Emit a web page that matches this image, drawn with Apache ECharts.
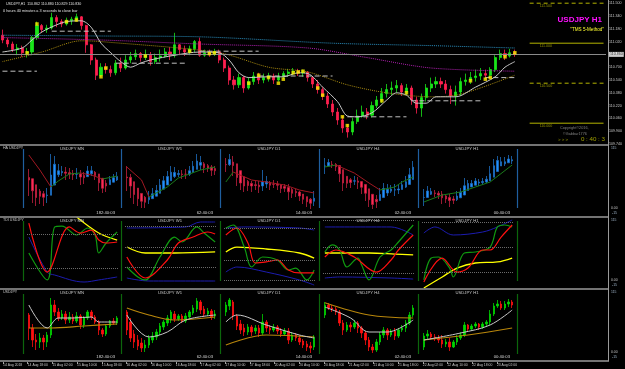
<!DOCTYPE html>
<html>
<head>
<meta charset="utf-8">
<style>
html, body { margin: 0; padding: 0; background: #000; }
#chart { width: 625px; height: 369px; }
</style>
<script src="https://cdn.jsdelivr.net/npm/echarts@6/dist/echarts.min.js"></script>
</head>
<body>
<div id="chart"></div>
<script>
// ---- data ----
// main H1 chart, [open, close, low, high]
var mainCandles = [
  [111.10,111.04,111.00,111.17],[111.04,110.99,110.95,111.07],[110.99,110.92,110.89,111.02],[110.92,110.94,110.85,110.99],
  [110.94,110.88,110.83,110.97],[110.88,110.89,110.82,110.94],[110.89,111.07,110.85,111.09],[111.07,111.22,111.04,111.27],
  [111.22,111.17,111.13,111.24],[111.17,111.19,111.13,111.23],[111.19,111.32,111.17,111.38],[111.32,111.27,111.20,111.35],
  [111.27,111.24,111.20,111.30],[111.24,111.28,111.22,111.32],[111.28,111.30,111.23,111.33],[111.30,111.33,111.27,111.37],
  [111.33,111.22,111.17,111.34],[111.22,110.98,110.88,111.23],[110.98,110.79,110.73,110.99],[110.79,110.60,110.54,110.82],
  [110.60,110.70,110.58,110.75],[110.70,110.67,110.62,110.75],[110.67,110.63,110.58,110.72],[110.63,110.75,110.60,110.79],
  [110.75,110.69,110.64,110.82],[110.69,110.79,110.67,110.85],[110.79,110.83,110.75,110.89],[110.83,110.87,110.79,110.92],
  [110.87,110.82,110.77,110.89],[110.82,110.85,110.79,110.92],[110.85,110.77,110.72,110.89],[110.77,110.82,110.74,110.87],
  [110.82,110.84,110.77,110.92],[110.84,110.89,110.82,110.94],[110.89,110.85,110.79,110.95],[110.85,110.98,110.82,111.13],
  [110.98,110.92,110.85,110.99],[110.92,110.89,110.84,110.97],[110.89,110.93,110.85,110.97],[110.93,111.02,110.89,111.04],
  [111.02,110.85,110.83,111.07],[110.85,110.88,110.83,110.92],[110.88,110.87,110.83,110.92],[110.87,110.89,110.84,110.93],
  [110.89,110.79,110.75,110.92],[110.79,110.69,110.64,110.82],[110.69,110.54,110.48,110.72],[110.54,110.48,110.42,110.59],
  [110.48,110.57,110.44,110.62],[110.57,110.44,110.38,110.59],[110.44,110.52,110.42,110.57],[110.52,110.59,110.48,110.64],
  [110.59,110.54,110.49,110.63],[110.54,110.57,110.50,110.62],[110.57,110.59,110.52,110.63],[110.59,110.54,110.49,110.62],
  [110.54,110.58,110.52,110.63],[110.58,110.62,110.55,110.65],[110.62,110.64,110.58,110.68],[110.64,110.65,110.60,110.69],
  [110.65,110.63,110.59,110.68],[110.63,110.64,110.58,110.67],[110.64,110.57,110.52,110.65],[110.57,110.49,110.44,110.59],
  [110.49,110.42,110.37,110.54],[110.42,110.34,110.29,110.45],[110.34,110.24,110.19,110.38],[110.24,110.14,110.09,110.29],
  [110.14,110.04,109.98,110.19],[110.04,109.94,109.88,110.09],[109.94,109.89,109.82,109.99],[109.89,110.02,109.85,110.07],
  [110.02,110.09,109.99,110.17],[110.09,110.14,110.07,110.22],[110.14,110.10,110.05,110.19],[110.10,110.22,110.07,110.27],
  [110.22,110.29,110.19,110.34],[110.29,110.37,110.25,110.44],[110.37,110.42,110.32,110.49],[110.42,110.44,110.35,110.52],
  [110.44,110.47,110.38,110.54],[110.47,110.39,110.34,110.50],[110.39,110.44,110.35,110.49],[110.44,110.29,110.23,110.47],
  [110.29,110.19,110.12,110.33],[110.19,110.32,110.08,110.37],[110.32,110.44,110.27,110.49],[110.44,110.49,110.39,110.57],
  [110.49,110.52,110.44,110.58],[110.52,110.49,110.44,110.57],[110.49,110.42,110.37,110.54],[110.42,110.34,110.24,110.47],
  [110.34,110.39,110.22,110.47],[110.39,110.52,110.34,110.57],[110.52,110.54,110.47,110.62],[110.54,110.57,110.49,110.64],
  [110.57,110.59,110.52,110.67],[110.59,110.62,110.54,110.69],[110.62,110.60,110.55,110.67],[110.60,110.67,110.58,110.70],
  [110.67,110.82,110.64,110.85],[110.82,110.87,110.79,110.92],[110.87,110.84,110.79,110.92],[110.84,110.88,110.82,110.93],
  [110.88,110.86,110.83,110.92]
];
var bid = 110.86;
// [bar index, price]
var mainFastMA = [[0,110.89],[4,110.94],[6,111.04],[8,111.14],[11,111.23],[13,111.27],[16,111.28],[18,111.20],[20,111.00],
  [22,110.88],[24,110.77],[26,110.70],[28,110.75],[30,110.79],[35,110.85],[40,110.89],[44,110.88],[46,110.79],[48,110.63],
  [50,110.57],[54,110.58],[57,110.58],[60,110.63],[62,110.62],[65,110.45],[68,110.27],[70,110.09],[72,110.08],[75,110.13],
  [78,110.29],[80,110.38],[82,110.35],[84,110.25],[86,110.25],[88,110.33],[92,110.33],[96,110.45],[100,110.58],[102,110.70],[104,110.77]];
var mainCyan = [[0,111.10],[20,111.09],[40,111.08],[67,111.00],[87,110.97],[104,110.94]];
var mainMagenta = [[0,111.07],[20,111.04],[40,110.99],[62,110.94],[74,110.82],[87,110.69],[104,110.65]];
var mainOlive = [[0,110.77],[8,110.89],[16,111.03],[20,111.02],[44,110.88],[54,110.70],[62,110.64],[70,110.48],[78,110.38],
  [87,110.33],[92,110.35],[97,110.44],[104,110.60]];
// [from bar, to bar, price]
var mainDashes = [[0,7,110.65],[10,22,111.15],[23,37,110.75],[40,52,110.90],[52,67,110.59],[70,82,110.08],[83,97,110.28],[98,104,110.57]];
var mainDots = [[5,110.88],[7,111.24],[13,111.27],[15,111.29],[20,110.58],[21,110.69],[29,110.84],[38,110.90],[42,110.87],
  [43,110.88],[50,110.50],[52,110.60],[54,110.57],[56,110.50],[57,110.55],[59,110.63],[60,110.64],[61,110.65],[64,110.44],
  [65,110.35],[69,110.08],[70,109.97],[77,110.28],[82,110.38],[95,110.53],[98,110.55],[99,110.57],[102,110.83],[104,110.88]];
var levelPrices = [111.5, 111.0, 110.5, 110.0];
var levelDashed = [true, false, true, false];
var timeLabels = ['14 Aug 2018','14 Aug 18:00','15 Aug 02:00','15 Aug 10:00','15 Aug 18:00','16 Aug 02:00','16 Aug 10:00',
  '16 Aug 18:00','17 Aug 02:00','17 Aug 10:00','17 Aug 18:00','20 Aug 02:00','20 Aug 10:00','20 Aug 18:00','21 Aug 02:00',
  '21 Aug 10:00','21 Aug 18:00','22 Aug 02:00','22 Aug 10:00','22 Aug 18:00','23 Aug 02:00'];

var frames = ['MN', 'W1', 'D1', 'H4', 'H1'];
var timers = ['182:40:03', '62:40:03', '14:40:03', '02:40:03', '00:40:03'];

var mnCandles = [[111.75,108.5,105.5,112.25],[108.5,105.5,103.75,109.5],[105.5,105,103,107],[105,106,103.5,107.25],
  [106,105,103,106.75],[105,106.75,103.75,107.5],[106.75,114.25,106,116],[114.25,112.5,111.5,115.5],[112.5,111,110.25,113.5],
  [111,112,110.5,113],[112,110.5,109.5,112.75],[110.5,111.25,109.75,112.5],[111.25,110.25,109.5,112],[110.25,111.5,109.75,112.5],
  [111.5,109.25,108.25,112],[109.25,111,108.5,111.5],[111,112.5,110.5,113],[112.5,111.25,110.5,113],[111.25,110,109.5,111.75],
  [110,108,106.75,110.5],[108,107,106.25,108.5],[107,109,106.5,109.5],[109,110.25,108.5,110.5],[110.25,109.75,109.25,111],
  [109.75,111,109.25,111.5]];
var w1Candles = [[111.5,109.25,108.625,111.75],[110.25,108.25,107.75,110.75],[108.75,107.75,107,109.25],[108,107.25,106.75,108.625],
  [107.625,107,106.5,108.25],[107,107.375,106.5,108],[107.375,108.25,107,108.625],[108,108.5,107.625,109],[108.375,109,108,109.375],
  [109,109.75,108.625,110.125],[109.625,110.25,109.25,110.5],[110.125,110.75,109.75,111.125],[110.5,111.5,110.125,111.75],
  [111.25,110.625,110.25,111.625],[110.625,111,110.375,111.25],[111,110.375,110.125,111.25],[110.375,111,110.125,111.375],
  [110.875,111.5,110.5,111.75],[111.375,112,111.125,112.375],[111.875,112.875,111.5,113.25],[112.75,111.75,111.25,113],
  [111.875,111.25,110.875,112.25],[111.25,111.625,111,112],[111.625,110.875,110.5,111.875],[111,111.25,110.625,111.75]];
var d1Candles = [[112.1,112.45,111.9,112.6],[112.4,112.7,112.2,112.8],[112.6,111.9,111.7,112.7],[111.9,111.4,111.2,112.0],
  [111.5,111.2,111.0,111.7],[111.3,111.1,110.9,111.5],[111.1,111.35,110.95,111.5],[111.35,111.1,110.9,111.45],
  [111.15,111.3,111.0,111.45],[111.3,111.05,110.85,111.45],[111.05,111.6,110.95,112.0],[111.6,111.3,111.1,111.7],
  [111.3,111.2,111.0,111.45],[111.2,111.35,111.1,111.5],[111.35,111.15,111.0,111.45],[111.15,111.0,110.85,111.3],
  [111.0,111.15,110.9,111.3],[111.15,110.7,110.5,111.3],[110.7,110.95,110.6,111.1],[110.95,110.8,110.65,111.05],
  [110.8,110.6,110.45,110.95],[110.65,110.45,110.3,110.75],[110.5,110.35,110.15,110.65],[110.4,110.3,110.05,110.6],
  [110.35,110.85,110.2,110.95]];
var h4Candles = [[110.695,110.945,110.62,111.02],[110.945,110.87,110.82,110.995],[110.87,110.845,110.77,110.945],
  [110.845,110.77,110.695,110.895],[110.77,110.495,110.42,110.82],[110.495,110.32,110.195,110.57],[110.32,110.445,110.27,110.52],
  [110.445,110.395,110.27,110.52],[110.395,110.495,110.345,110.57],[110.495,110.37,110.245,110.545],[110.37,110.245,110.12,110.42],
  [110.245,110.07,109.945,110.295],[110.07,109.895,109.795,110.145],[109.895,109.82,109.745,109.97],[109.82,110.02,109.77,110.095],
  [110.02,110.195,109.945,110.27],[110.195,110.32,110.12,110.395],[110.32,110.195,110.07,110.37],[110.195,110.295,110.145,110.345],
  [110.295,110.17,110.07,110.37],[110.17,110.32,110.12,110.37],[110.32,110.37,110.27,110.445],[110.37,110.495,110.27,110.57],
  [110.495,110.695,110.445,110.77],[110.695,110.87,110.645,110.945]];
var h1Candles = [[110.03,110.25,109.97,110.31],[110.25,110.29,110.17,110.37],[110.29,110.23,110.19,110.33],[110.23,110.21,110.15,110.29],
  [110.21,110.17,110.11,110.27],[110.17,110.09,110.01,110.27],[110.09,110.13,110.03,110.19],[110.13,110.03,109.95,110.21],
  [110.03,110.13,110.01,110.17],[110.13,110.21,110.07,110.27],[110.21,110.27,110.17,110.33],[110.27,110.47,110.23,110.53],
  [110.47,110.39,110.33,110.49],[110.39,110.45,110.35,110.49],[110.45,110.49,110.41,110.53],[110.49,110.43,110.37,110.51],
  [110.43,110.49,110.39,110.53],[110.49,110.53,110.43,110.57],[110.53,110.69,110.47,110.77],[110.69,110.85,110.65,110.91],
  [110.85,110.89,110.81,110.97],[110.89,110.81,110.77,110.95],[110.81,110.89,110.77,110.95],[110.89,110.93,110.83,110.99],
  [110.93,110.87,110.81,110.97]];
var miniCandles = [mnCandles, w1Candles, d1Candles, h4Candles, h1Candles];

// Heikin Ashi trend line of the HA sub-window, [bar, price]
var haTrend = [
  [[0,115.75],[3,112],[6,107.75],[8,109.25],[11,111],[14,111.25],[17,110.75],[20,109.75],[24,110.5]],
  [[0,111.625],[4,110],[6,107.875],[11,109.125],[14,110.25],[20,111.25],[24,111.625]],
  [[0,111.4],[2,111.9],[7,111.5],[11,111.4],[16,111.25],[20,111.0],[24,110.85]],
  [[0,110.795],[3,110.845],[8,110.645],[12,110.395],[15,110.22],[19,110.295],[21,110.42],[24,110.545]],
  [[0,110.05],[5,110.19],[10,110.25],[14,110.35],[18,110.45],[24,110.79]]
];
// moving averages of the candle sub-window
var greyMA = [
  [[0,114.25],[5,108.5],[8,111],[12,111],[17,111.25],[19,110],[24,110]],
  [[0,111.125],[6,108.375],[11,109],[16,110.5],[24,111.125]],
  [[0,111.6],[3,111.95],[11,111.45],[20,110.95],[24,110.8]],
  [[0,110.895],[7,110.62],[12,110.27],[17,110.27],[24,110.57]],
  [[0,110.17],[10,110.31],[18,110.47],[24,110.77]]
];
var oliveMA = [
  [[0,108.5],[6,108.5],[15,109],[24,109.5]],
  [[0,112],[6,111.125],[13,110.5],[24,110.875]],
  [[0,110.45],[11,110.95],[24,110.85]],
  [[0,111.0],[12,110.695],[24,110.62]],
  [[0,110.17],[12,110.27],[24,110.41]]
];
// TDI sub-window
var tdiGreen = [
  [[0,47.5],[5,18.6],[7,75.4],[9,76.4],[13,66.8],[16,74.3],[18,66.8],[19,47.5],[21,58.2],[24,70]],
  [[0,32.5],[3,21.8],[5,18.6],[9,43.2],[13,64.6],[15,59.3],[19,75.4],[21,68.9],[24,59.3]],
  [[0,74.3],[2,77.5],[5,53.9],[7,32.5],[10,43.2],[14,40],[17,29.3],[19,31.4],[22,18.6],[24,29.3]],
  [[0,48.6],[2,56.1],[4,50.7],[6,32.5],[9,42.1],[10,34.6],[12,18.6],[15,43.2],[18,50.7],[20,59.3],[24,77.5]],
  [[0,18.6],[2,42.1],[4,43.2],[7,31.4],[8,21.8],[11,47.5],[14,48.6],[18,53.9],[20,75.4],[22,77.5],[24,75.4]]
];
var tdiRed = [
  [[0,79.6],[5,27.1],[11,75.4],[14,68.9],[17,72.1],[19,61.4],[21,58.2],[24,59.3]],
  [[0,43.2],[5,20.7],[11,40],[14,58.2],[18,64.6],[22,70],[24,67.9]],
  [[0,66.8],[3,74.3],[6,58.2],[8,36.8],[11,37.9],[14,40],[17,29.3],[20,26.1],[24,26.1]],
  [[0,43.2],[3,50.7],[8,43.2],[14,27.1],[18,40],[20,50.7],[24,66.8]],
  [[0,16.4],[5,42.1],[9,27.1],[12,31.4],[16,50.7],[18,50.7],[21,64.6],[24,77.5]]
];
var tdiYellow = [
  [[13,86],[19,68.9],[24,61.4]],
  [[0,53.9],[5,47.5],[13,47.5],[24,48.6]],
  [[0,48.6],[3,53.9],[11,51.8],[20,47.5],[24,42.1]],
  [[0,47.5],[12,47.5],[19,46.4],[24,45.4]],
  [[0,10],[5,21.8],[9,31.4],[14,36.8],[20,37.9],[24,42.1]]
];
var tdiBandUp = [
  [],
  [[0,74.3],[16,75.4],[20,80.7],[24,80.7]],
  [[0,74.3],[5,75.4],[20,74.3],[24,72.1]],
  [[0,75.4],[18,75.4],[24,66.8]],
  [[0,68.9],[3,75.4],[8,66.8],[16,70],[20,75.4],[24,82.9]]
];
var tdiBandDn = [
  [[0,64.6],[5,27.1],[7,23.9],[15,16.4],[19,18.6],[24,21.8]],
  [[0,20.7],[6,17.5],[24,17.5]],
  [[0,27.1],[3,32.5],[11,27.1],[20,18.6],[24,13.2]],
  [[0,20.7],[4,21.8],[18,20.7],[24,19.6]],
  []
];
var tdiLevels = [[67.9, 31.4], [76.4, 53.9, 32.5], [74.3, 40, 18.6], [82.9, 53.9, 26.1], [80.7, 53.9, 27.1]];

// ---- layout ----
var V = [23, 121, 220, 319, 418, 517];       // sub-window separators
var rowTop = [146, 218, 290];
var miniRange = [[100.5, 118], [105.5, 114.25], [109.7, 113.2], [109.57, 111.32], [109.77, 111.17]];
var FONT = '"Liberation Sans", Arial, sans-serif';
function font(s, b) { return (b ? 'bold ' : '') + s + 'px ' + FONT; }

var grids = [], xAxes = [], yAxes = [], series = [], graphics = [];
function addGrid(g, xa, ya) {
  grids.push(g);
  var i = grids.length - 1;
  xa.gridIndex = i; ya.gridIndex = i;
  xAxes.push(xa); yAxes.push(ya);
  return i;
}
function cats(n) { var a = []; for (var i = 0; i < n; i++) a.push(String(i)); return a; }
function line(gi, data, color, width, type, smooth) {
  series.push({
    type: 'line', xAxisIndex: gi, yAxisIndex: gi, data: data, symbol: 'none', silent: true,
    smooth: smooth || false, lineStyle: { color: color, width: width, type: type || 'solid' }
  });
}
function heikin(c) {
  var out = [], po, pc;
  c.forEach(function (k, i) {
    var hc = (k[0] + k[1] + k[2] + k[3]) / 4;
    var ho = i === 0 ? (k[0] + k[1]) / 2 : (po + pc) / 2;
    out.push([ho, hc, Math.min(k[2], ho, hc), Math.max(k[3], ho, hc)]);
    po = ho; pc = hc;
  });
  return out;
}

// main chart
var mainCats = cats(123);
var g0 = addGrid({ left: 0, top: 0, width: 608, height: 144 },
  { type: 'category', data: mainCats, show: false, boundaryGap: true },
  { type: 'value', position: 'right', min: 109.74, max: 111.54, interval: 0.02,
    axisLine: { show: false }, axisTick: { show: false }, splitLine: { show: false },
    axisLabel: { color: '#c8c8c8', fontSize: 3.6, fontFamily: FONT, margin: 3,
      formatter: function (v) { var k = Math.round((v - 109.74) / 0.02); return k % 8 === 0 ? v.toFixed(3) : ''; } } });
function timeLabel(i) { return i % 5 === 0 && timeLabels[i / 5] ? timeLabels[i / 5] : ''; }
var gT = addGrid({ left: 0, top: 361, width: 608, height: 1 },
  { type: 'category', data: mainCats, boundaryGap: true, axisLine: { show: false },
    axisTick: { show: true, alignWithLabel: true, length: 2, lineStyle: { color: '#a0a0a0' },
      interval: function (i) { return timeLabel(i) !== ''; } },
    axisLabel: { color: '#c8c8c8', fontSize: 3.4, fontFamily: FONT, margin: 2, align: 'left',
      interval: function (i) { return timeLabel(i) !== ''; },
      formatter: function (v) { return timeLabel(+v); } } },
  { type: 'value', show: false });

series.push({
  type: 'candlestick', xAxisIndex: g0, yAxisIndex: g0, data: mainCandles, barWidth: 2.6, silent: true,
  itemStyle: { color: '#19e619', color0: '#ff1f4f', borderColor: '#19e619', borderColor0: '#ff1f4f', borderWidth: 0.8 },
  markLine: { silent: true, symbol: 'none', label: { show: false }, data: [{ yAxis: bid }],
    lineStyle: { color: '#8a8a8a', type: 'solid', width: 1 } }
});
line(g0, mainCyan, '#2a8fbf', 1, 'dotted', 0.3);
line(g0, mainMagenta, '#b020b0', 1, 'dotted', 0.3);
line(g0, mainOlive, '#a88a10', 1, 'dotted', 0.3);
line(g0, mainFastMA, '#c8c8c8', 1, 'solid', 0.3);
mainDashes.forEach(function (d) { line(g0, [[d[0], d[2]], [d[1], d[2]]], '#c0c0c0', 1, [5, 3]); });
series.push({ type: 'scatter', xAxisIndex: g0, yAxisIndex: g0, data: mainDots, symbol: 'rect', symbolSize: 3.5,
  itemStyle: { color: '#ffee00' }, silent: true, z: 5 });
levelPrices.forEach(function (p, i) {
  line(g0, [[107, p], [122, p]], '#b4b400', 1, levelDashed[i] ? [4, 3] : 'solid');
});
series.push({ type: 'scatter', xAxisIndex: g0, yAxisIndex: g0, symbolSize: 0, silent: true, z: 6,
  data: levelPrices.map(function (p) { return [107, p]; }),
  label: { show: true, position: [10, 0.5], color: '#b4b400', fontSize: 3.6, fontFamily: FONT,
    formatter: function (p) { return p.value[1].toFixed(3); } } });
series.push({ type: 'scatter', xAxisIndex: g0, yAxisIndex: g0, symbolSize: 0, silent: true, z: 10,
  data: [[122, bid]],
  label: { show: true, position: 'right', distance: 5.5, color: '#000', backgroundColor: '#ffffff',
    padding: [0.5, 1], fontSize: 3.6, fontFamily: FONT, formatter: function (p) { return p.value[1].toFixed(3); } } });

// sub-windows
for (var r = 0; r < 3; r++) {
  for (var j = 0; j < 5; j++) {
    var isTdi = r === 1;
    var n = 25;
    var gi = addGrid({ left: V[j] + 4, top: rowTop[r], width: 92, height: 70 },
      { type: 'category', data: cats(n), show: false, boundaryGap: true },
      { type: 'value', show: false, min: isTdi ? 10 : miniRange[j][0], max: isTdi ? 85 : miniRange[j][1] });
    if (r === 0) {
      series.push({ type: 'candlestick', xAxisIndex: gi, yAxisIndex: gi, data: heikin(miniCandles[j]), barWidth: 2, silent: true,
        itemStyle: { color: '#1e90ff', color0: '#ff2a55', borderColor: '#1e6fc0', borderColor0: '#c0203f', borderWidth: 0.8 } });
      var t = haTrend[j];
      for (var k = 0; k < t.length - 1; k++) {
        line(gi, [t[k], t[k + 1]], t[k + 1][1] < t[k][1] ? '#a01822' : '#1a7a1a', 1);
      }
    } else if (r === 1) {
      series.push({ type: 'line', xAxisIndex: gi, yAxisIndex: gi, data: [], symbol: 'none', silent: true,
        markLine: { silent: true, symbol: 'none', label: { show: false },
          lineStyle: { color: '#6a6a6a', type: 'dotted', width: 1 },
          data: tdiLevels[j].map(function (v) { return { yAxis: v }; }) } });
      if (tdiBandUp[j].length) line(gi, tdiBandUp[j], '#1c1cb0', 1, 'solid', 0.35);
      if (tdiBandDn[j].length) line(gi, tdiBandDn[j], '#1c1cb0', 1, 'solid', 0.35);
      line(gi, tdiYellow[j], '#ffff00', 1.3, 'solid', 0.35);
      line(gi, tdiGreen[j], '#109a10', 1.2, 'solid', 0.35);
      line(gi, tdiRed[j], '#ff1010', 1.2, 'solid', 0.35);
    } else {
      series.push({ type: 'candlestick', xAxisIndex: gi, yAxisIndex: gi, data: miniCandles[j], barWidth: 2, silent: true,
        itemStyle: { color: '#00d400', color0: '#ff1010', borderColor: '#00d400', borderColor0: '#ff1010', borderWidth: 0.8 } });
      line(gi, oliveMA[j], '#b8860b', 1.2, 'solid', 0.35);
      line(gi, greyMA[j], '#c8c8c8', 1, 'solid', 0.35);
    }
  }
}

// frame, separators and texts
function gLine(x1, y1, x2, y2, c, w) {
  graphics.push({ type: 'line', silent: true, z: 50, shape: { x1: x1, y1: y1, x2: x2, y2: y2 }, style: { stroke: c, lineWidth: w } });
}
function gText(x, y, s, c, f, align) {
  graphics.push({ type: 'text', silent: true, z: 60, x: x, y: y,
    style: { text: s, fill: c, font: f, align: align || 'left', verticalAlign: 'middle' } });
}
[145, 217, 289, 361].forEach(function (y) { gLine(0, y, 609, y, '#9a9a9a', 1.6); });
gLine(608.5, 0, 608.5, 361, '#9a9a9a', 1);
var vColor = ['#1f5f9f', '#0c660c', '#0c660c'];
var vSpan = [[149, 208], [221, 281], [294, 354]];
for (var rr = 0; rr < 3; rr++) {
  V.forEach(function (x) { gLine(x + 0.5, vSpan[rr][0], x + 0.5, vSpan[rr][1], vColor[rr], 1.2); });
  frames.forEach(function (f, jj) {
    gText(V[jj] + 49, rowTop[rr] + 2.8, 'USDJPY ' + f, '#c8c8c8', font(4.2), 'center');
    if (rr !== 1) gText(V[jj] + 92, rowTop[rr] + 67, timers[jj], '#d8d8d8', font(4.2), 'right');
  });
  gText(611, rowTop[rr] + 2, '115', '#9fb4c8', font(3.4));
  gText(611, rowTop[rr] + 62, '0.00', '#c8c8c8', font(3.4));
  gText(612, rowTop[rr] + 67, '-15', '#9fb4c8', font(3.4));
}
gText(3, 147.5, 'HA USDJPY', '#c8c8c8', font(3.6));
gText(3, 220, 'TDI USDJPY', '#c8c8c8', font(3.6));
gText(3, 292, 'USDJPY', '#c8c8c8', font(3.6));
gText(6, 3.5, 'USDJPY,H1  110.862 110.880 110.829 110.830', '#e0e0e0', font(3.6));
gText(3, 10.5, '0 hours 40 minutes a 3 seconds to close bar', '#e0e0e0', font(3.8));
gText(602, 20, 'USDJPY H1', '#ff10ff', font(8, true), 'right');
gText(604, 30, '"TMS 5-Method"', '#ffff30', font(4.6), 'right');
gText(560, 128, 'Copyright\u00a92016,', '#808080', font(3.8));
gText(563, 133.5, '\u00a9Gabbar1776', '#808080', font(3.8));
gText(558, 139.5, '> > >', '#a0a000', font(4.4));
gText(605, 139.5, '0 : 40 : 3', '#a0a000', font(6.2), 'right');

var myChart = echarts.init(document.getElementById('chart'));
myChart.setOption({
  backgroundColor: '#000000',
  animation: false,
  grid: grids,
  xAxis: xAxes,
  yAxis: yAxes,
  series: series,
  graphic: graphics
});
window.addEventListener('resize', function () { myChart.resize(); });
</script>
</body>
</html>
